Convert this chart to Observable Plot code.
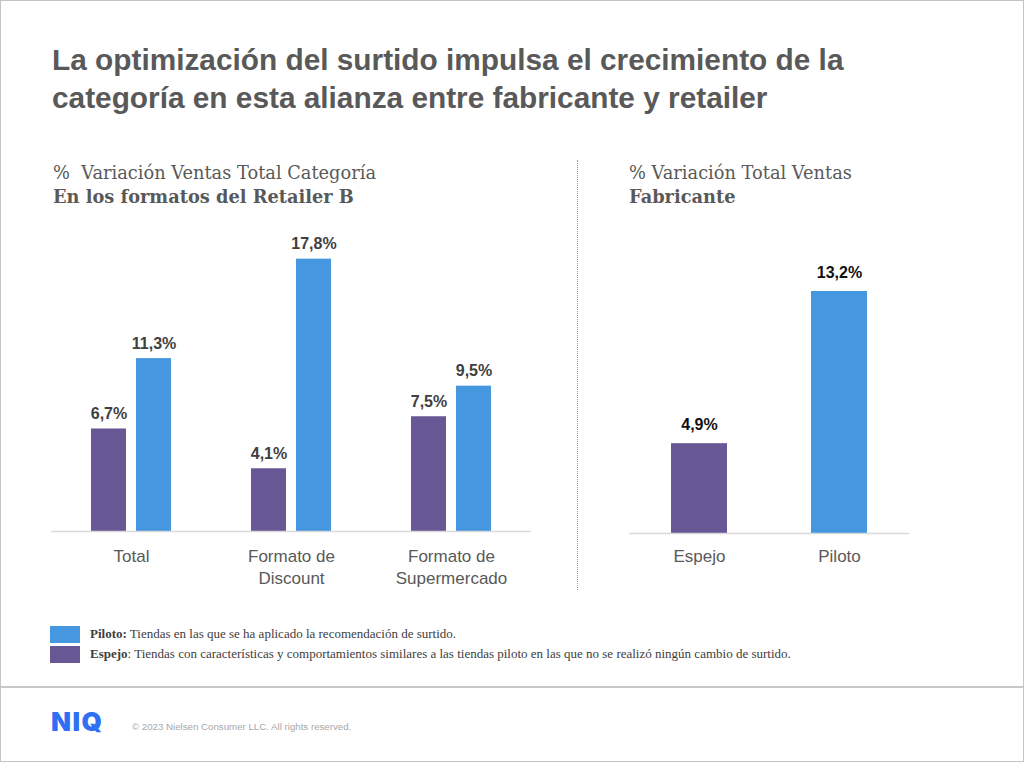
<!DOCTYPE html>
<html>
<head>
<meta charset="utf-8">
<script src="https://cdn.jsdelivr.net/npm/d3@7"></script>
<script src="https://cdn.jsdelivr.net/npm/@observablehq/plot@0.6"></script>
<style>
  html, body { margin: 0; padding: 0; background: #fff; }
  #page { position: relative; width: 1024px; height: 762px; overflow: hidden; box-sizing: border-box; border: 1px solid #c4c4c4; }
  .abs { position: absolute; }
  #title { left: 51px; top: 40px; font-family: "Liberation Sans", Arial, sans-serif; font-weight: bold; font-size: 29.8px; line-height: 38px; color: #595959; white-space: nowrap; }
  .sub { font-family: "DejaVu Serif", Georgia, serif; font-size: 17.8px; line-height: 24px; color: #595959; white-space: nowrap; }
  .sub b { font-weight: bold; }
  #sep { left: 576px; top: 159px; height: 430px; width: 0; border-left: 1px dotted #9a9a9a; }
  .sw { width: 30px; height: 17px; }
  .leg { font-family: "Liberation Serif", "Times New Roman", serif; font-size: 13px; line-height: 20px; color: #404040; white-space: nowrap; }
  #footline { left: 0; top: 685px; width: 1024px; height: 0; border-top: 2px solid #c8c8c8; }
  #logo { left: 50px; top: 706px; font-family: Inter, Roboto, sans-serif; font-weight: 900; font-size: 26px; line-height: 30px; letter-spacing: 1.5px; color: #2f6ff3; }
  #copy { left: 131px; top: 719px; font-family: "Liberation Sans", Arial, sans-serif; font-size: 9.7px; line-height: 14px; color: #a8a8a8; white-space: nowrap; }
</style>
</head>
<body>
<div id="page">
  <div id="title" class="abs">La optimización del surtido impulsa el crecimiento de la<br>categoría en esta alianza entre fabricante y retailer</div>
  <div class="abs sub" style="left:52px; top:160px;">%&nbsp; Variación Ventas Total Categoría<br><b>En los formatos del Retailer B</b></div>
  <div class="abs sub" style="left:628px; top:160px;">% Variación Total Ventas<br><b>Fabricante</b></div>
  <div id="left" class="abs" style="left:0; top:200px;"></div>
  <div id="right" class="abs" style="left:560px; top:200px;"></div>
  <div id="sep" class="abs"></div>
  <div id="legend"></div>
  <div id="footline" class="abs"></div>
  <div id="logo" class="abs">NIQ</div>
  <div id="copy" class="abs">© 2023 Nielsen Consumer LLC. All rights reserved.</div>
</div>
<script>
// ---- Data ----
const categories = ["Total", "Formato de\nDiscount", "Formato de\nSupermercado"];
const seriesNames = ["Espejo", "Piloto"];
const espejoValues = [6.7, 4.1, 7.5];
const pilotoValues = [11.3, 17.8, 9.5];
const fabricanteCategories = ["Espejo", "Piloto"];
const fabricanteValues = [4.9, 13.2];
const legendLabels = ["Piloto:", "Espejo:"];
const legendTexts = [
  " Tiendas en las que se ha aplicado  la recomendación  de surtido.",
  ": Tiendas con características y comportamientos  similares a las tiendas piloto en las que no se realizó ningún cambio de surtido."
];

// ---- Styles ----
const colors = { Espejo: "#675794", Piloto: "#4597e0" };
const fmt = v => v.toFixed(1).replace(".", ",") + "%";

const leftData = [];
categories.forEach((c, i) => {
  leftData.push({ cat: c, series: "Espejo", value: espejoValues[i] });
  leftData.push({ cat: c, series: "Piloto", value: pilotoValues[i] });
});
const rightData = fabricanteCategories.map((c, i) => ({ cat: c, value: fabricanteValues[i] }));

const leftPlot = Plot.plot({
  width: 560, height: 400,
  marginLeft: 49, marginRight: 30, marginTop: 24, marginBottom: 70,
  style: { fontFamily: "'Liberation Sans', Arial, sans-serif", color: "#595959", background: "transparent" },
  fx: { domain: categories, padding: 0, label: null },
  x: { domain: seriesNames, paddingInner: 0.2174, paddingOuter: 0.848, axis: null },
  y: { domain: [0, 20], axis: null },
  color: { domain: seriesNames, range: seriesNames.map(s => colors[s]) },
  marks: [
    Plot.barY(leftData, { fx: "cat", x: "series", y: "value", fill: "series" }),
    Plot.ruleY([0], { stroke: "#d9d9d9", strokeWidth: 1.5 }),
    Plot.text(leftData, { fx: "cat", x: "series", y: "value", text: d => fmt(d.value), dy: -10, lineAnchor: "bottom", fontSize: 16, fontWeight: "bold", fill: "#404040" }),
    Plot.axisFx({ anchor: "bottom", tickSize: 0, tickPadding: 15, fontSize: 17, lineHeight: 1.3, label: null })
  ]
});
document.getElementById("left").appendChild(leftPlot);

const rightPlot = Plot.plot({
  width: 400, height: 400,
  marginLeft: 68, marginRight: 52, marginTop: 57, marginBottom: 68,
  style: { fontFamily: "'Liberation Sans', Arial, sans-serif", color: "#595959", background: "transparent" },
  x: { domain: fabricanteCategories, paddingInner: 0.6, paddingOuter: 0.3, label: null },
  y: { domain: [0, 15], axis: null },
  color: { domain: seriesNames, range: seriesNames.map(s => colors[s]) },
  marks: [
    Plot.barY(rightData, { x: "cat", y: "value", fill: "cat" }),
    Plot.ruleY([0], { stroke: "#d9d9d9", strokeWidth: 1.5 }),
    Plot.text(rightData, { x: "cat", y: "value", text: d => fmt(d.value), dy: -14, lineAnchor: "bottom", fontSize: 16, fontWeight: "bold", fill: "#111111" }),
    Plot.axisX({ tickSize: 0, tickPadding: 16, fontSize: 17, label: null })
  ]
});
document.getElementById("right").appendChild(rightPlot);

// Legend
const legend = document.getElementById("legend");
const legendSeries = ["Piloto", "Espejo"];
legendSeries.forEach((s, i) => {
  const sw = document.createElement("div");
  sw.className = "abs sw";
  sw.style.left = "49px";
  sw.style.top = (625 + i * 19.5) + "px";
  sw.style.background = colors[s];
  legend.appendChild(sw);
  const t = document.createElement("div");
  t.className = "abs leg";
  t.style.left = "89px";
  t.style.top = (623 + i * 20) + "px";
  const b = document.createElement("b");
  b.textContent = i === 0 ? legendLabels[0] : legendLabels[1].replace(":", "");
  t.appendChild(b);
  t.appendChild(document.createTextNode(legendTexts[i]));
  legend.appendChild(t);
});
</script>
</body>
</html>
